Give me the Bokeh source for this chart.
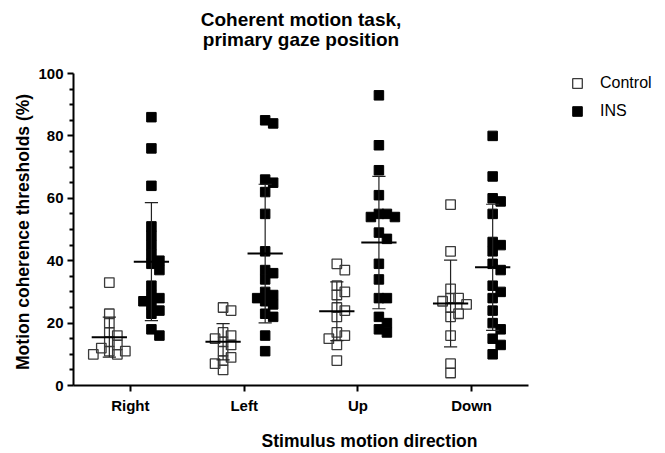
import numpy as np
from bokeh.plotting import figure
from bokeh.models import (ColumnDataSource, Legend, LegendItem, Label,
                          FixedTicker, Range1d)
from bokeh.embed import file_html
from bokeh.resources import INLINE

# ---------------- data ----------------
directions = ["Right", "Left", "Up", "Down"]

ctrl_right = [33, 23, 20, 17, 16, 14, 13, 12, 11, 11, 10, 10]
ctrl_left = [25, 24, 17, 16, 15, 14, 13, 11, 9, 8, 7, 5]
ctrl_up = [39, 37, 32, 30, 29, 25, 24, 22, 17, 16, 15, 13, 8]
ctrl_down = [58, 43, 31, 28, 28, 27, 26, 25, 23, 22, 16, 7, 4]

ins_right = [86, 76, 64, 51, 48, 45, 42, 40, 39, 37, 32, 29, 28, 27, 26, 24, 23, 18, 16]
ins_left = [85, 84, 66, 65, 62, 55, 43, 37, 36, 34, 30, 29, 28, 27, 26, 23, 22, 16, 11]
ins_up = [93, 77, 69, 61, 55, 55, 54, 54, 49, 47, 39, 34, 28, 28, 22, 20, 18, 17]
ins_down = [80, 67, 60, 59, 55, 46, 45, 43, 39, 37, 32, 30, 28, 24, 20, 18, 15, 13, 10]

ctrl_mean = [15.5, 14.0, 23.8, 26.3]
ctrl_sd = [6.4, 5.8, 9.4, 13.9]
ins_mean = [39.7, 42.3, 45.8, 37.9]
ins_sd = [18.9, 22.2, 21.2, 20.2]

y_ticks = [0, 20, 40, 60, 80, 100]
title_lines = ["Coherent motion task,", "primary gaze position"]

ctrl_groups = [ctrl_right, ctrl_left, ctrl_up, ctrl_down]
ins_groups = [ins_right, ins_left, ins_up, ins_down]

# ---------------- layout (pixels) ----------------
W, H = 665, 453
AX_L, AX_R, AX_T, AX_B = 73, 528, 73, 385   # where the axes lie on the page
XPX = (AX_R - AX_L) / 4.0
YPX = (AX_B - AX_T) / 100.0
X_END = 0.5 + (W - AX_L) / XPX        # frame extends to the right edge (legend room)
Y_END = AX_B / YPX                    # frame extends to the top edge (title room)
GOFF = 0.185
MSIZE = 9.5
FONT = "Liberation Sans"


def ydata(px):
    return (AX_B - px) / YPX


def swarm(vals, size_px=MSIZE, frac=0.8):
    vals = np.asarray(vals, dtype=float)
    order = np.argsort(-vals, kind="stable")
    placed = []
    offs = np.zeros(len(vals))
    lim = size_px * frac
    for i in order:
        y = vals[i] * YPX
        best = 0.0
        found = False
        for k in range(0, 80):
            cands = [0.0] if k == 0 else [k * 0.5, -k * 0.5]
            for c in cands:
                if all(abs(c - px) >= lim or abs(y - py) >= lim for px, py in placed):
                    best = c
                    found = True
                    break
            if found:
                break
        placed.append((best, y))
        offs[i] = best / XPX
    return offs


def build(groups, shift):
    xs, ys = [], []
    for gi, g in enumerate(groups):
        o = swarm(g)
        xs.extend(list(gi + 1 + shift + o))
        ys.extend(g)
    return ColumnDataSource(dict(x=xs, y=ys))


ctrl_src = build(ctrl_groups, -GOFF)
ins_src = build(ins_groups, GOFF)

p = figure(width=W, height=H, x_range=Range1d(0.5, X_END), y_range=Range1d(0, Y_END),
           output_backend="svg", toolbar_location=None,
           min_border_left=AX_L, min_border_right=0, min_border_top=0,
           min_border_bottom=H - AX_B)
p.outline_line_color = None
p.xgrid.visible = False
p.ygrid.visible = False
p.background_fill_color = "white"
p.border_fill_color = "white"

# points
r_ctrl = p.scatter("x", "y", source=ctrl_src, marker="square", size=MSIZE,
                   fill_color=None, line_color="#3a3a3a", line_width=1.3)
r_ins = p.scatter("x", "y", source=ins_src, marker="square", size=MSIZE,
                  fill_color="black", line_color="black", line_width=1)

# mean and SD bars
cap = 0.058
half = 0.155
for means, sds, shift in [(ctrl_mean, ctrl_sd, -GOFF), (ins_mean, ins_sd, GOFF)]:
    cx = np.arange(1, 5) + shift
    m = np.asarray(means)
    s = np.asarray(sds)
    p.segment(x0=cx, x1=cx, y0=m - s, y1=m + s, line_color="#222222", line_width=1.2)
    p.segment(x0=cx - cap, x1=cx + cap, y0=m + s, y1=m + s, line_color="#222222", line_width=1.2)
    p.segment(x0=cx - cap, x1=cx + cap, y0=m - s, y1=m - s, line_color="#222222", line_width=1.2)
    p.segment(x0=cx - half, x1=cx + half, y0=m, y1=m, line_color="black", line_width=2)

# axes
p.xaxis.ticker = FixedTicker(ticks=[1, 2, 3, 4])
p.xaxis.major_label_overrides = {i + 1: d for i, d in enumerate(directions)}
p.xaxis.bounds = (0.5, 4.5)
p.yaxis.ticker = FixedTicker(ticks=y_ticks,
                             minor_ticks=[v for v in range(0, 101, 5) if v % 20 != 0])
p.yaxis.bounds = (0, 100)
for ax in (p.xaxis[0], p.yaxis[0]):
    ax.axis_line_width = 2
    ax.axis_line_color = "black"
    ax.major_tick_line_width = 2
    ax.major_tick_line_color = "black"
    ax.major_tick_in = 0
    ax.major_tick_out = 6
    ax.major_label_text_font = FONT
    ax.major_label_text_font_style = "bold"
    ax.major_label_text_font_size = "15px"
    ax.major_label_text_color = "black"
    ax.axis_label_text_font = FONT
    ax.axis_label_text_font_style = "bold"
    ax.axis_label_text_font_size = "17.5px"
    ax.axis_label_text_color = "black"
p.xaxis.minor_tick_line_color = None
p.yaxis.minor_tick_line_width = 2
p.yaxis.minor_tick_line_color = "black"
p.yaxis.minor_tick_in = 0
p.yaxis.minor_tick_out = 4
p.xaxis.major_label_standoff = 5
p.yaxis.major_label_standoff = 4
p.xaxis.axis_label = "Stimulus motion direction"
# the frame reaches the top edge; trailing no-break spaces keep the label
# centred on the 0-100 axis instead of on the taller frame
p.yaxis.axis_label = "Motion coherence thresholds (%)" + "\u00a0" * 16
p.xaxis.axis_label_standoff = 14
p.yaxis.axis_label_standoff = 2

# title (two lines), centred over the axes
for txt, base_px in zip(title_lines, [18.5, 38.5]):
    p.add_layout(Label(x=2.5, y=ydata(base_px), text=txt, text_align="center",
                       text_baseline="alphabetic", text_font=FONT,
                       text_font_style="bold", text_font_size="19px",
                       text_color="black"))

# legend (inside the widened frame, right of the axes)
legend = Legend(items=[LegendItem(label="Control", renderers=[r_ctrl]),
                       LegendItem(label="INS", renderers=[r_ins])],
                location=(565 - AX_L, AX_B - 123), glyph_width=24, glyph_height=24,
                spacing=4, padding=0, margin=0, label_standoff=11,
                border_line_color=None, background_fill_alpha=0,
                label_text_font=FONT, label_text_font_size="16px",
                label_text_color="black")
p.add_layout(legend, "center")

open("out.html", "w").write(file_html(p, INLINE))
